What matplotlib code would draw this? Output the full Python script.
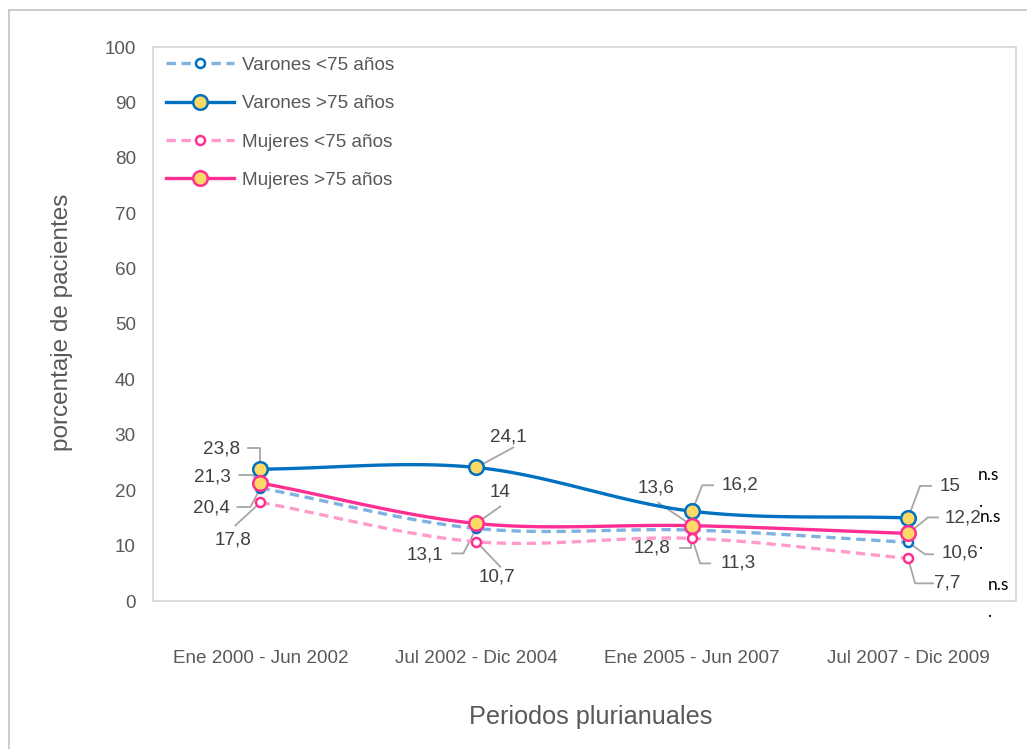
import numpy as np
import matplotlib
matplotlib.use("Agg")
import matplotlib.pyplot as plt
import matplotlib.transforms as mtransforms
from matplotlib.lines import Line2D

plt.rcParams["font.family"] = ["Liberation Sans", "DejaVu Sans"]

# ---- data -------------------------------------------------------------
periods = ["Ene 2000 - Jun 2002", "Jul 2002 - Dic 2004",
           "Ene 2005 - Jun 2007", "Jul 2007 - Dic 2009"]
varones_menor75 = [20.4, 13.1, 12.8, 10.6]
varones_mayor75 = [23.8, 24.1, 16.2, 15.0]
mujeres_menor75 = [17.8, 10.7, 11.3, 7.7]
mujeres_mayor75 = [21.3, 14.0, 13.6, 12.2]
series_names = ["Varones <75 años", "Varones >75 años",
                "Mujeres <75 años", "Mujeres >75 años"]
y_ticks = [0, 10, 20, 30, 40, 50, 60, 70, 80, 90, 100]

# ---- styles -----------------------------------------------------------
BLUE = "#0070C0"
BLUE_LIGHT = "#7FB2E0"
PINK = "#FF2E93"
PINK_LIGHT = "#FF9BCB"
YELLOW = "#FFD966"
GRAY_TXT = "#595959"
LABEL_TXT = "#404040"
LEADER = "#A6A6A6"
FS = 13.6

styles = [
    dict(color=BLUE_LIGHT, ls=(0, (2.8, 1.7)), mfc="white", mec=BLUE, ms=6.5),
    dict(color=BLUE, ls="-", mfc=YELLOW, mec=BLUE, ms=10.5),
    dict(color=PINK_LIGHT, ls=(0, (2.8, 1.7)), mfc="white", mec=PINK, ms=6.5),
    dict(color=PINK, ls="-", mfc=YELLOW, mec=PINK, ms=10.5),
]

# label layout: text offset and leader polyline, in pixels from the marker
label_layout = [
    [((-49, -20), [(-23, -19), (-10, -19), (0, 0)]),
     ((-51, -27), [(-24, -25), (-13, -25), (0, 0)]),
     ((-40, -18), [(-12, -18), (-1, -18), (-1, 0)]),
     ((52, -11), [(25, -12), (17, -12), (0, 0)])],
    [((-39, 20), [(-12, 21), (0, 21), (0, 0)]),
     ((32, 30), [(37, 20), (0, 0)]),
     ((48, 26), [(21, 26), (10, 26), (0, 0)]),
     ((42, 31), [(23, 32), (12, 32), (0, 0)])],
    [((-27, -38), [(-25, -23), (0, 0)]),
     ((21, -35), [(0, 0), (24, -25)]),
     ((46, -25), [(18, -25), (8, -25), (0, 0)]),
     ((39, -25), [(25, -25), (7, -25), (0, 0)])],
    [((-48, 6), [(-21, 8), (-8, 8), (0, 0)]),
     ((24, 31), [(24, 17), (0, 0)]),
     ((-36, 38), [(-34, 23), (0, 0)]),
     ((55, 15), [(30, 16), (20, 16), (0, 0)])],
]


def smooth(values, n=40):
    """Cardinal (Catmull-Rom) spline through evenly spaced points."""
    y = np.asarray(values, float)
    k = len(y)
    m = np.zeros(k)
    m[0] = y[1] - y[0]
    m[-1] = y[-1] - y[-2]
    m[1:-1] = (y[2:] - y[:-2]) / 2.0
    xs, ys = [], []
    for i in range(k - 1):
        t = np.linspace(0, 1, n, endpoint=(i == k - 2))
        h00 = 2 * t**3 - 3 * t**2 + 1
        h10 = t**3 - 2 * t**2 + t
        h01 = -2 * t**3 + 3 * t**2
        h11 = t**3 - t**2
        xs.append(i + t)
        ys.append(h00 * y[i] + h10 * m[i] + h01 * y[i + 1] + h11 * m[i + 1])
    return np.concatenate(xs), np.concatenate(ys)


W, H = 1027, 749
fig = plt.figure(figsize=(W / 100, H / 100), dpi=100)
ax = fig.add_axes([152.5 / W, (H - 601) / H, (1016 - 152.5) / W, (601 - 47) / H])
ax.set_xlim(-0.5, len(periods) - 0.5)
ax.set_ylim(0, 100)

# outer chart frame
fig.add_artist(Line2D([8.5 / W, 8.5 / W], [0, 1 - 10 / H], transform=fig.transFigure,
                      color="#C8C8C8", lw=1.3))
fig.add_artist(Line2D([8.5 / W, 1], [1 - 10 / H, 1 - 10 / H], transform=fig.transFigure,
                      color="#C8C8C8", lw=1.3))

all_series = [varones_menor75, varones_mayor75, mujeres_menor75, mujeres_mayor75]
x = np.arange(len(periods))
handles = []
for vals, st, name in zip(all_series, styles, series_names):
    sx, sy = smooth(vals)
    ax.plot(sx, sy, color=st["color"], ls=st["ls"], lw=2.4,
            solid_capstyle="butt", zorder=3)
    ax.plot(x, vals, ls="none", marker="o", ms=st["ms"], mfc=st["mfc"],
            mec=st["mec"], mew=1.8, zorder=4, clip_on=False)
    handles.append(Line2D([], [], color=st["color"], ls=st["ls"], lw=2.4,
                          marker="o", ms=st["ms"], mfc=st["mfc"], mec=st["mec"],
                          mew=1.8))


def px_trans(xv, yv):
    return (mtransforms.Affine2D().scale(fig.dpi / 100.0)
            + mtransforms.ScaledTranslation(xv, yv, ax.transData))


# data labels with leader lines
for vals, layout in zip(all_series, label_layout):
    for i, v in enumerate(vals):
        (tdx, tdy), leader = layout[i]
        lx, ly = zip(*leader)
        ax.add_line(Line2D(lx, ly, transform=px_trans(i, v), color=LEADER,
                           lw=1.3, zorder=2, clip_on=False))
        txt = f"{v:g}".replace(".", ",")
        ax.annotate(txt, xy=(i, v), xytext=(tdx * 0.72, tdy * 0.72),
                    textcoords="offset points", ha="center", va="center",
                    fontsize=FS, color=LABEL_TXT, zorder=5)

# significance notes
ns_marks = [(varones_mayor75, (80, 43), (72, 16)),
            (mujeres_mayor75, (82, 16), (72, -11)),
            (mujeres_menor75, (90, -27), (81, -54))]
for vals, (ndx, ndy), (pdx, pdy) in ns_marks:
    i = len(vals) - 1
    for s, (dx, dy) in (("n.s", (ndx, ndy)), (".", (pdx, pdy))):
        ax.annotate(s, xy=(i, vals[i]), xytext=(dx * 0.72, dy * 0.72),
                    textcoords="offset points", ha="center", va="center",
                    fontsize=12.5, color="black", family=["Lato", "DejaVu Sans"],
                    annotation_clip=False)

# axes styling
for sp in ax.spines.values():
    sp.set_color("#D9D9D9")
    sp.set_linewidth(1.3)
ax.set_xticks(x)
ax.set_xticklabels(periods)
ax.set_yticks(y_ticks)
ax.tick_params(axis="both", length=0, labelsize=FS, colors=GRAY_TXT)
ax.tick_params(axis="x", pad=35)
ax.tick_params(axis="y", pad=12)

fig.text(591 / W, 1 - 717 / H, "Periodos plurianuales", ha="center", va="center",
         fontsize=18.2, color=GRAY_TXT)
fig.text(62 / W, 1 - 322 / H, "porcentaje de pacientes", ha="center", va="center",
         rotation=90, fontsize=17.5, color=GRAY_TXT)

leg = ax.legend(handles, series_names, loc="upper left",
                bbox_to_anchor=(8 / (1016 - 152.5), 1 - 4 / 554),
                frameon=False, fontsize=FS, handlelength=3.6, handletextpad=0.42,
                labelspacing=1.12, borderaxespad=0, borderpad=0.3)
for t in leg.get_texts():
    t.set_color(GRAY_TXT)

fig.savefig("out.png", dpi=100)
